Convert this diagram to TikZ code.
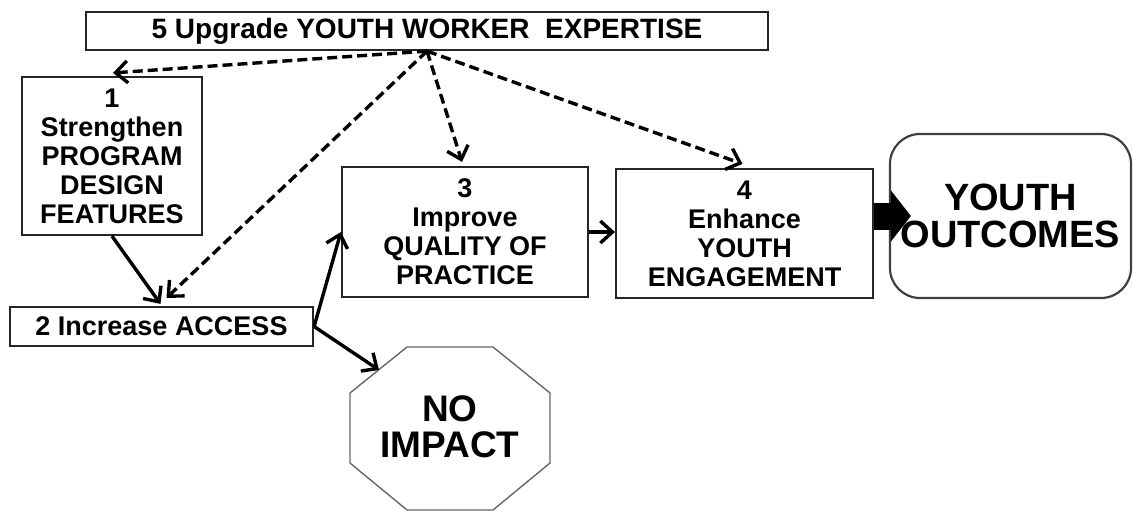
\documentclass[tikz,border=0pt]{standalone}
\usepackage{fontspec}
\setmainfont{Liberation Sans}
\usetikzlibrary{arrows.meta,calc}

\begin{document}
\begin{tikzpicture}[x = 1pt, y = -1pt, line width = 2.2pt,
                        box/.style = {draw = black!85, inner sep = 0pt, align = center,
                                      font = \fontsize{27}{29}\selectfont\bfseries},
                        goal/.style = {draw = black!75, rounded corners = 30pt, inner sep = 0pt,
                                       align = center, font = \fontsize{38}{37}\selectfont\bfseries},
                        push/.style = {-{Straight Barb[length = 12pt, width = 22pt]}, line width = 3.4pt},
                        support/.style = {push, dash pattern = on 10pt off 5pt}]
      \useasboundingbox (0, 0) rectangle (1133, 512);
      \node [box, minimum width = 682, minimum height = 38] (p5) at (427, 31)
            {\fontsize{28}{29}\selectfont 5 Upgrade YOUTH WORKER\ \ EXPERTISE};
      \node [box, minimum width = 180, minimum height = 158] (p1) at (112, 156) {1\\Strengthen\\PROGRAM\\DESIGN\\FEATURES};
      \node [box, minimum width = 303, minimum height = 39] (p2) at (161.5, 326.5) {2 Increase ACCESS};
      \node [box, minimum width = 246, minimum height = 130] (p3) at (465, 232) {3\\Improve\\QUALITY OF\\PRACTICE};
      \node [box, minimum width = 257, minimum height = 129] (p4) at (744.5, 233.5) {4\\Enhance\\YOUTH\\ENGAGEMENT};
      \node [goal, minimum width = 241, minimum height = 164] (out) at (1010.5, 216) {YOUTH\\OUTCOMES};
      % no impact octagon
      \draw [line width = 1.4pt, draw = black!60] (407, 347) -- (493, 347) -- (550, 393) -- (550, 463)
            -- (493, 510) -- (407, 510) -- (350, 463) -- (350, 393) -- cycle;
      \node [align = center, font = \fontsize{37}{36}\selectfont\bfseries] (none) at (450, 427) {NO\\IMPACT};
      \coordinate (noedge) at (379, 370);
      % expertise supports every step
      \draw [support] (p5.south) -- ($(p1.north) + (1, -3)$);
      \draw [support] (p5.south) -- ($(p2.north) + (5, -8)$);
      \draw [support] (p5.south) -- ($(p3.north) + (-3, -4)$);
      \draw [support] (p5.south) -- ($(p4.north) + (-2, -4)$);
      % main chain
      \draw [push] (p1.south) -- ($(p2.north) + (-1, -2)$);
      \draw [push] (p2.east) -- (p3.west);
      \draw [push] (p2.east) -- (noedge);
      \draw [push] (p3.east) -- (p4.west |- p3.east);
      \draw [line width = 27pt, -{Triangle[length = 20pt, width = 50pt]}] (p4.east |- out.west) -- ($(out.west) + (22, 0)$);
    \end{tikzpicture}
\end{document}
